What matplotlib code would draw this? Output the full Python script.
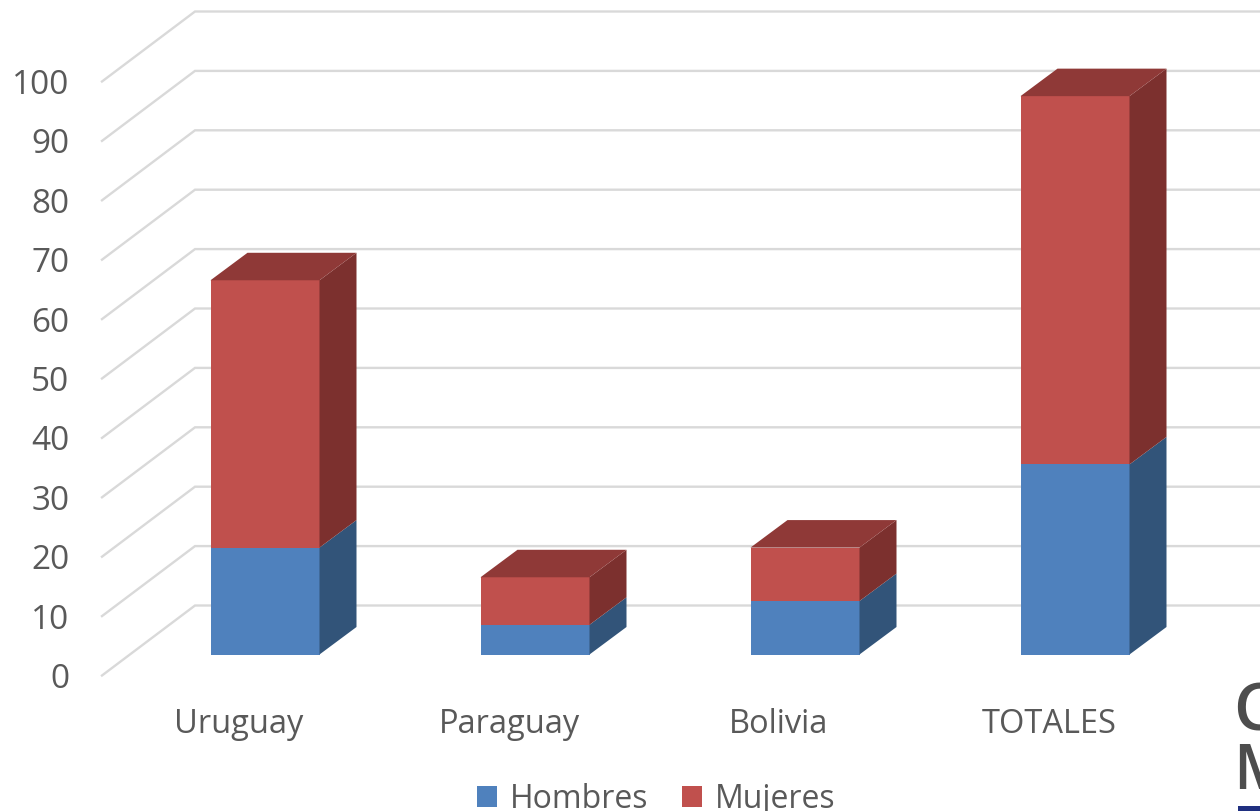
import matplotlib
matplotlib.use("Agg")
import matplotlib.pyplot as plt
from matplotlib.patches import Polygon, Patch, Rectangle

plt.rcParams['font.family'] = ['Open Sans', 'DejaVu Sans']

categories = ["Uruguay", "Paraguay", "Bolivia", "TOTALES"]
hombres = [18, 5, 9, 32]
mujeres = [45, 8, 9, 62]
y_ticks = [0, 10, 20, 30, 40, 50, 60, 70, 80, 90, 100]

W, H = 1260, 812
PX_PER_CAT = 270.0
PX_PER_UNIT = 5.94
X0 = 265.0
Y0 = 654.0
SHIFT = 1.5  # pixel offset of the whole drawing

fig = plt.figure(figsize=(W / 100, H / 100), dpi=100, facecolor="white")
ax = fig.add_axes([0, 0, 1, 1])
ax.set_xlim(-X0 / PX_PER_CAT, (W - X0) / PX_PER_CAT)
ax.set_ylim((Y0 + SHIFT - H) / PX_PER_UNIT, (Y0 + SHIFT) / PX_PER_UNIT)
ax.axis("off")

def xu(px):
    return px / PX_PER_CAT

def yu(px):
    return px / PX_PER_UNIT

# walls: gridlines with perspective
front_x = xu(102 - X0)
back_x = xu(195 - X0)
right_x = xu(W - X0)
front_off = yu(Y0 - 675)
back_off = yu(Y0 - 605)
grid_c = "#d9d9d9"
for t in y_ticks:
    ax.plot([front_x, back_x, right_x],
            [t + front_off, t + back_off, t + back_off],
            color=grid_c, lw=1.7, zorder=1, solid_joinstyle="miter", clip_on=True)
    ax.text(xu(69.5 - X0), t + yu(Y0 - 678), str(t), ha="right", va="center",
            fontsize=24, color="#595959")

# bars
bar_w = 109 / PX_PER_CAT
dx = 37 / PX_PER_CAT
dy = yu(27.5)

def box(i, lo, hi, front, side, top=None):
    l = i - bar_w / 2
    r = i + bar_w / 2
    ax.add_patch(Rectangle((l, lo), bar_w, hi - lo, fc=front, ec="none", zorder=3))
    ax.add_patch(Polygon([(r, lo), (r + dx, lo + dy), (r + dx, hi + dy), (r, hi)],
                         closed=True, fc=side, ec="none", zorder=3))
    if top:
        ax.add_patch(Polygon([(l, hi), (l + dx, hi + dy), (r + dx, hi + dy), (r, hi)],
                             closed=True, fc=top, ec="none", zorder=3))

for i, (h, m) in enumerate(zip(hombres, mujeres)):
    box(i, 0, h, "#4f81bd", "#325479")
    box(i, h, h + m, "#c0504d", "#7c302e", "#8f3937")
    ax.text(i - 26 / PX_PER_CAT, yu(Y0 - 723), categories[i], ha="center", va="center",
            fontsize=23.5, color="#595959")

# legend
handles = [Patch(fc="#4f81bd", ec="none", label="Hombres"),
           Patch(fc="#c0504d", ec="none", label="Mujeres")]
ax.legend(handles=handles, ncol=2, loc="center", frameon=False,
          bbox_to_anchor=(656.5 / W, 1 - 800 / H), fontsize=23, labelcolor="#595959",
          handlelength=0.63, handleheight=0.63, handletextpad=0.4,
          columnspacing=1.05, borderpad=0, borderaxespad=0)

# cropped logo in the corner
ax.text(xu(1233 - X0), yu(Y0 - 713), "C", ha="left", va="center", fontsize=47,
        fontweight="semibold", color="#4d4d4d", clip_on=True)
ax.text(xu(1233 - X0), yu(Y0 - 771), "M", ha="left", va="center", fontsize=45,
        fontweight="semibold", color="#4d4d4d", clip_on=True)
ax.add_patch(Rectangle((xu(1238 - X0), yu(Y0 - 810)), xu(W - 1238), yu(5), fc="#1f2f80", ec="none"))

fig.savefig("out.png", dpi=100)
